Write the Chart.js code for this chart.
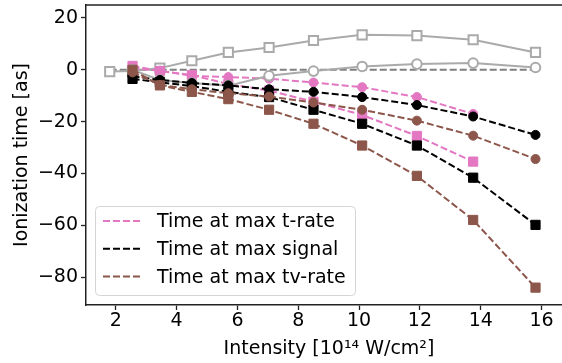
<!DOCTYPE html>
<html>
<head>
<meta charset="utf-8">
<script src="https://cdn.jsdelivr.net/npm/chart.js"></script>
<style>
  html, body { margin: 0; padding: 0; background: #fff; overflow: hidden; }
  #clip { width: 562px; height: 363px; overflow: hidden; }
  #wrap { width: 572px; height: 363px; }
</style>
</head>
<body>
<div id="clip"><div id="wrap"><canvas id="chart"></canvas></div></div>
<script>
// intensities (1e14 W/cm^2)
const intensity = [1.8, 2.55, 3.45, 4.5, 5.7, 7.04, 8.5, 10.1, 11.9, 13.75, 15.8]

// ionization times in attoseconds, one array per curve (null = not computed)
const tRateCircle  = [null, 0.5, -0.3, -2.3, -2.8, -3.4, -4.9, -6.7, -10.5, -17.0, null]
const tRateSquare  = [null, 1.5, -0.5, -2.0, -5.5, -8.0, -12.3, -17.4, -25.5, -35.4, null]
const signalCircle = [null, -2.5, -3.9, -5.1, -6.0, -7.5, -8.5, -10.5, -13.6, -18.0, -25.1]
const signalSquare = [null, -3.5, -4.8, -6.3, -8.5, -10.5, -15.4, -20.8, -29.2, -41.6, -59.8]
const tvRateCircle = [null, -1.0, -5.8, -7.5, -9.0, -10.3, -12.6, -15.4, -19.6, -25.4, -34.4]
const tvRateSquare = [null, 0.0, -6.0, -8.5, -11.3, -15.4, -20.8, -29.2, -40.9, -57.9, -84.0]
const refSquare    = [-0.66, -0.5, 0.66, 3.5, 6.7, 8.6, 11.3, 13.5, 13.2, 11.6, 6.7]
const refCircle    = [null, 0.0, -3.9, -5.1, -6.1, -2.3, -0.5, 1.3, 2.2, 2.6, 0.9]
const zeroLine     = [0, null, null, null, null, null, null, null, null, null, 0]

const xTicks = [2, 4, 6, 8, 10, 12, 14, 16]
const yTicks = [20, 0, -20, -40, -60, -80]

const legendLabels = ['Time at max t-rate', 'Time at max signal', 'Time at max tv-rate']

const PINK = '#e377c2', BROWN = '#8c564b', BLACK = '#000000'
const GREY = '#aaaaaa', DGREY = '#808080'
const FONT = '"DejaVu Sans", sans-serif'
const FS = 19
const DASH = [7, 3]

const pts = (ys) => intensity.map((x, i) => ({ x: x, y: ys[i] })).filter(p => p.y !== null)

function dashed(ys, color, style, order) {
    return {
        data: pts(ys), order: order,
        borderColor: color, backgroundColor: color,
        borderWidth: 2, borderDash: DASH,
        pointStyle: style, pointRadius: style === 'rect' ? 6.5 : 4.5,
        pointBorderWidth: 1, pointBorderColor: color, pointBackgroundColor: color,
    }
}

function open(ys, style, order) {
    return {
        data: pts(ys), order: order,
        borderColor: GREY, borderWidth: 2,
        pointStyle: style, pointRadius: style === 'rect' ? 6.5 : 4.8,
        pointBorderWidth: 2, pointBorderColor: GREY, pointBackgroundColor: '#fff',
    }
}

const datasets = [
    dashed(tvRateSquare, BROWN, 'rect', 1),
    dashed(tvRateCircle, BROWN, 'circle', 1),
    dashed(signalSquare, BLACK, 'rect', 2),
    dashed(signalCircle, BLACK, 'circle', 2),
    open(refCircle, 'circle', 3),
    dashed(tRateSquare, PINK, 'rect', 4),
    dashed(tRateCircle, PINK, 'circle', 4),
    open(refSquare, 'rect', 5),
    { data: pts(zeroLine), order: 6, borderColor: DGREY, borderWidth: 2, borderDash: DASH, pointRadius: 0 },
]

// top spine + the boxed legend in the lower left
const frameAndLegend = {
    id: 'frameAndLegend',
    afterDraw(chart) {
        const ctx = chart.ctx, a = chart.chartArea
        ctx.save()
        ctx.strokeStyle = '#222'
        ctx.lineWidth = 1.5
        ctx.beginPath()
        ctx.moveTo(a.left, a.top)
        ctx.lineTo(a.right, a.top)
        ctx.stroke()

        const bx = 95.5, by = 206.5, bw = 260, bh = 89
        ctx.beginPath()
        ctx.roundRect(bx, by, bw, bh, 4)
        ctx.fillStyle = 'rgba(255,255,255,0.8)'
        ctx.fill()
        ctx.strokeStyle = '#d5d5d5'
        ctx.lineWidth = 1
        ctx.stroke()

        const colors = [PINK, BLACK, BROWN]
        ctx.font = FS + 'px ' + FONT
        ctx.textBaseline = 'middle'
        legendLabels.forEach((label, i) => {
            const y = 221 + i * 27.8
            ctx.strokeStyle = colors[i]
            ctx.lineWidth = 2
            ctx.setLineDash(DASH)
            ctx.beginPath()
            ctx.moveTo(103, y)
            ctx.lineTo(142, y)
            ctx.stroke()
            ctx.setLineDash([])
            ctx.fillStyle = '#000'
            ctx.fillText(label, 157, y + 1)
        })
        ctx.restore()
    }
}

const minus = (v) => v < 0 ? '\u2212' + Math.abs(v) : String(v)

// fixed axis boxes so the plot area sits at x 86..572, y 5..305
const fitX = (s) => { s.height = 58; s.paddingLeft = 0; s.paddingRight = 0 }
const fitY = (s) => { s.width = 86; s.paddingTop = 0; s.paddingBottom = 0 }

new Chart(document.getElementById('chart'), {
    type: 'line',
    data: { datasets: datasets },
    plugins: [frameAndLegend],
    options: {
        responsive: true,
        maintainAspectRatio: false,
        animation: false,
        layout: { autoPadding: false, padding: { top: 5, right: 0, left: 0, bottom: 0 } },
        plugins: { legend: { display: false }, tooltip: { enabled: false } },
        scales: {
            x: {
                type: 'linear', min: 1.02, max: 17,
                afterBuildTicks: (s) => { s.ticks = xTicks.map(v => ({ value: v })) },
                afterFit: fitX,
                grid: { drawOnChartArea: false, drawTicks: true, tickLength: 5, tickColor: '#222', tickWidth: 1.3 },
                border: { display: true, color: '#222', width: 1.5 },
                ticks: { color: '#000', font: { family: FONT, size: FS }, padding: 0, maxRotation: 0, callback: minus },
                title: { display: true, text: 'Intensity [10\u00b9\u2074 W/cm\u00b2]', color: '#000',
                         font: { family: FONT, size: FS }, padding: { top: 0, bottom: 3 } },
            },
            y: {
                type: 'linear', min: -90.7, max: 25,
                afterBuildTicks: (s) => { s.ticks = yTicks.map(v => ({ value: v })) },
                afterFit: fitY,
                grid: { drawOnChartArea: false, drawTicks: true, tickLength: 5, tickColor: '#222', tickWidth: 1.3 },
                border: { display: true, color: '#222', width: 1.5 },
                ticks: { color: '#000', font: { family: FONT, size: FS }, padding: 3, callback: minus },
                title: { display: true, text: 'Ionization time [as]', color: '#000',
                         font: { family: FONT, size: FS }, padding: { top: 11, bottom: 0 } },
            }
        }
    }
})
</script>
</body>
</html>
